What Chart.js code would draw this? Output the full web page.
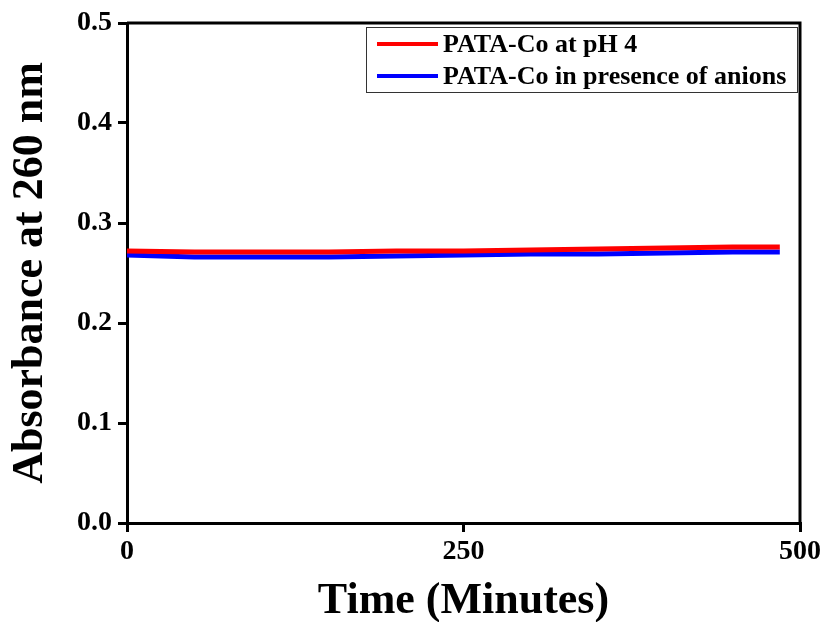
<!DOCTYPE html>
<html>
<head>
<meta charset="utf-8">
<script src="https://cdn.jsdelivr.net/npm/chart.js@4/dist/chart.umd.min.js"></script>
<style>
  body { margin: 0; background: #fff; }
  canvas { display: block; }
</style>
</head>
<body>
<canvas id="absChart" width="827" height="622"></canvas>
<script>
// time in minutes
const timePoints = [0, 50, 100, 150, 200, 250, 300, 350, 400, 450, 485];
const phFourValues = [0.272, 0.271, 0.271, 0.271, 0.272, 0.272, 0.273, 0.274, 0.275, 0.276, 0.276];
const anionValues = [0.268, 0.266, 0.266, 0.266, 0.267, 0.268, 0.269, 0.269, 0.270, 0.271, 0.271];
const seriesLabels = ["PATA-Co at pH 4", "PATA-Co in presence of anions"];
const xTicks = [0, 250, 500];
const yTicks = [0.0, 0.1, 0.2, 0.3, 0.4, 0.5];

const serif = "'Liberation Serif', 'Times New Roman', serif";

function toPoints(values) {
  return timePoints.map((t, i) => ({ x: t, y: values[i] }));
}

// top and right frame lines plus legend box drawn inside the plot
const framePlugin = {
  id: "frame",
  afterDraw(chart) {
    const ctx = chart.ctx;
    const a = chart.chartArea;
    ctx.save();
    ctx.strokeStyle = "#000";
    ctx.lineWidth = 3;
    ctx.beginPath();
    ctx.moveTo(a.left, a.top);
    ctx.lineTo(a.right, a.top);
    ctx.lineTo(a.right, a.bottom);
    ctx.stroke();

    // legend
    const bx = a.right - 434, by = a.top + 4, bw = 431, bh = 65;
    ctx.lineWidth = 1;
    ctx.strokeStyle = "#333";
    ctx.strokeRect(bx + 0.5, by + 0.5, bw, bh);
    ctx.font = "bold 26px " + serif;
    ctx.textBaseline = "middle";
    ctx.fillStyle = "#000";
    chart.data.datasets.forEach((ds, i) => {
      const ly = by + 17 + i * 32;
      ctx.strokeStyle = ds.borderColor;
      ctx.lineWidth = 4;
      ctx.beginPath();
      ctx.moveTo(bx + 11, ly);
      ctx.lineTo(bx + 72, ly);
      ctx.stroke();
      ctx.fillText(ds.label, bx + 77, ly + 1);
    });
    ctx.restore();
  }
};

new Chart(document.getElementById("absChart"), {
  type: "line",
  data: {
    datasets: [
      {
        label: seriesLabels[0],
        data: toPoints(phFourValues),
        borderColor: "#ff0000",
        borderWidth: 5,
        pointRadius: 0,
        tension: 0
      },
      {
        label: seriesLabels[1],
        data: toPoints(anionValues),
        borderColor: "#0000ff",
        borderWidth: 5,
        pointRadius: 0,
        tension: 0
      }
    ]
  },
  options: {
    responsive: false,
    animation: false,
    layout: { padding: { top: 23, right: 27, left: 0, bottom: 0 } },
    plugins: {
      legend: { display: false },
      tooltip: { enabled: false }
    },
    scales: {
      x: {
        type: "linear",
        min: 0,
        max: 500,
        afterBuildTicks(scale) {
          scale.ticks = xTicks.map(v => ({ value: v }));
        },
        afterFit(scale) { scale.height = 99; },
        border: { color: "#000", width: 3 },
        grid: { drawOnChartArea: false, drawTicks: true, tickLength: 9, color: "#000", lineWidth: 3 },
        ticks: {
          color: "#000",
          padding: 3,
          maxRotation: 0,
          font: { family: serif, size: 28, weight: "bold" }
        },
        title: {
          display: true,
          text: "Time (Minutes)",
          color: "#000",
          padding: { top: 0, bottom: -2 },
          font: { family: serif, size: 44, weight: "bold", lineHeight: 1 }
        }
      },
      y: {
        min: 0,
        max: 0.5,
        afterBuildTicks(scale) {
          scale.ticks = yTicks.map(v => ({ value: v }));
        },
        afterFit(scale) { scale.width = 127; },
        border: { color: "#000", width: 3 },
        grid: { drawOnChartArea: false, drawTicks: true, tickLength: 9, color: "#000", lineWidth: 3 },
        ticks: {
          color: "#000",
          padding: 6,
          callback: v => v.toFixed(1),
          font: { family: serif, size: 28, weight: "bold" }
        },
        title: {
          display: true,
          text: "Absorbance at 260 nm",
          color: "#000",
          padding: { top: 4, bottom: 0 },
          font: { family: serif, size: 44, weight: "bold" }
        }
      }
    }
  },
  plugins: [framePlugin]
});
</script>
</body>
</html>
